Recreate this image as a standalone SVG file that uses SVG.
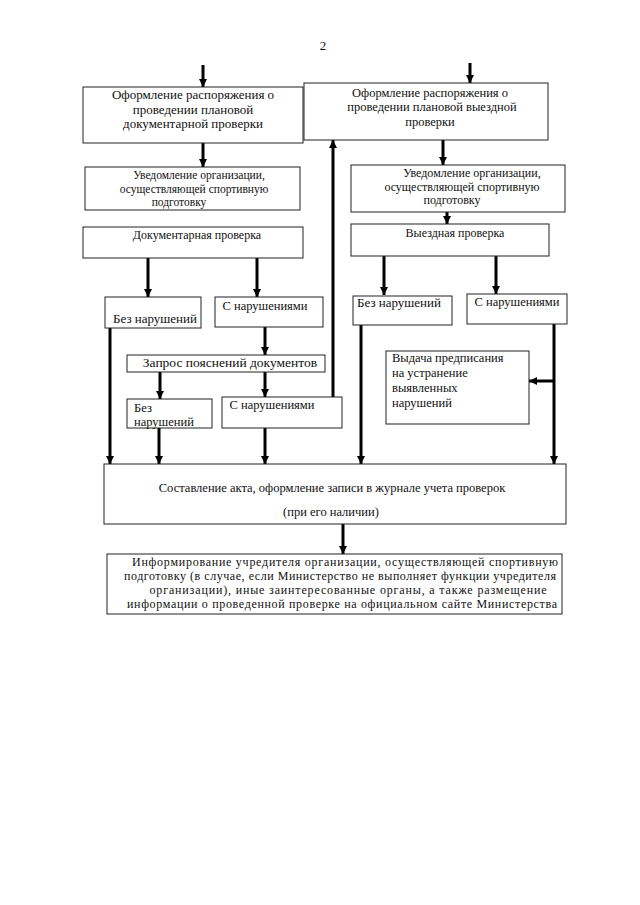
<svg xmlns="http://www.w3.org/2000/svg" width="640" height="905" viewBox="0 0 640 905">
<style>
.b{fill:#fff;stroke:#222;stroke-width:1}
.t{font-family:"Liberation Serif","Times New Roman",serif;font-size:12.5px;fill:#111;text-anchor:middle}
.s{font-size:11.5px}
.m{font-size:12px}
.g{font-size:13px}
.l{text-anchor:start}
.c{stroke:#000;stroke-width:3;fill:none;marker-end:url(#ah)}
</style>
<defs>
<marker id="ah" markerUnits="userSpaceOnUse" markerWidth="9" markerHeight="8" refX="8" refY="4" orient="auto">
<path d="M0,0 L8,4 L0,8 z" fill="#000"/>
</marker>
</defs>
<rect width="640" height="905" fill="#fff"/>
<text class="t" x="323" y="50" style="font-size:13px">2</text>

<g id="connectors">
<line class="c" x1="203" y1="65" x2="203" y2="87"/>
<line class="c" x1="470" y1="63" x2="470" y2="83"/>
<line class="c" x1="203" y1="143" x2="203" y2="167"/>
<line class="c" x1="443" y1="140" x2="443" y2="165"/>
<line class="c" x1="447" y1="212" x2="447" y2="224"/>
<line class="c" x1="148" y1="258" x2="148" y2="297"/>
<line class="c" x1="257" y1="258" x2="257" y2="297"/>
<line class="c" x1="384" y1="256" x2="384" y2="295"/>
<line class="c" x1="496" y1="256" x2="496" y2="294"/>
<line class="c" x1="265" y1="327" x2="265" y2="355"/>
<line class="c" x1="160" y1="372" x2="160" y2="399"/>
<line class="c" x1="265" y1="372" x2="265" y2="397"/>
<line class="c" x1="333" y1="397" x2="333" y2="140"/>
<line class="c" x1="110" y1="328" x2="110" y2="464"/>
<line class="c" x1="159" y1="428" x2="159" y2="464"/>
<line class="c" x1="265" y1="428" x2="265" y2="464"/>
<line class="c" x1="361" y1="325" x2="361" y2="464"/>
<line class="c" x1="554" y1="324" x2="554" y2="464"/>
<line class="c" x1="554" y1="381" x2="529" y2="381"/>
<line class="c" x1="343" y1="524" x2="343" y2="554"/>
</g>

<g id="n1">
<rect class="b" x="83" y="87" width="220" height="56"/>
<text class="t g" x="193" y="99">Оформление распоряжения о</text>
<text class="t g" x="193" y="114">проведении плановой</text>
<text class="t g" x="193" y="128">документарной проверки</text>
</g>
<g id="n2">
<rect class="b" x="304" y="83" width="244" height="57"/>
<text class="t" x="430" y="97">Оформление распоряжения о</text>
<text class="t" x="432" y="111">проведении плановой выездной</text>
<text class="t" x="430" y="126">проверки</text>
</g>
<g id="n3">
<rect class="b" x="85" y="167" width="215" height="43"/>
<text class="t s" x="199" y="179">Уведомление организации,</text>
<text class="t s" x="194" y="193">осуществляющей спортивную</text>
<text class="t s" x="179" y="206">подготовку</text>
</g>
<g id="n4">
<rect class="b" x="351" y="165" width="214" height="47"/>
<text class="t m" x="472" y="177">Уведомление организации,</text>
<text class="t m" x="462" y="191">осуществляющей спортивную</text>
<text class="t m" x="452" y="204">подготовку</text>
</g>
<g id="n5">
<rect class="b" x="83" y="227" width="220" height="31"/>
<text class="t m" x="197" y="239">Документарная проверка</text>
</g>
<g id="n6">
<rect class="b" x="351" y="224" width="198" height="32"/>
<text class="t m" x="455" y="237">Выездная проверка</text>
</g>
<g id="n7">
<rect class="b" x="105" y="297" width="96" height="31"/>
<text class="t g" x="155" y="323">Без нарушений</text>
</g>
<g id="n8">
<rect class="b" x="215" y="297" width="108" height="30"/>
<text class="t" x="265" y="310">С нарушениями</text>
</g>
<g id="n9">
<rect class="b" x="353" y="296" width="99" height="29"/>
<text class="t g" x="399" y="307">Без нарушений</text>
</g>
<g id="n10">
<rect class="b" x="467" y="294" width="100" height="30"/>
<text class="t" x="517" y="306">С нарушениями</text>
</g>
<g id="n11">
<rect class="b" x="127" y="355" width="198" height="17"/>
<text class="t" x="230" y="367" style="font-size:13.5px">Запрос пояснений документов</text>
</g>
<g id="n12">
<rect class="b" x="386" y="351" width="143" height="73"/>
<text class="t l" x="392" y="362">Выдача предписания</text>
<text class="t l" x="392" y="377">на устранение</text>
<text class="t l" x="392" y="392">выявленных</text>
<text class="t l" x="392" y="407">нарушений</text>
</g>
<g id="n13">
<rect class="b" x="127" y="399" width="85" height="29"/>
<text class="t l" x="134" y="412">Без</text>
<text class="t l" x="134" y="426">нарушений</text>
</g>
<g id="n14">
<rect class="b" x="222" y="397" width="120" height="31"/>
<text class="t" x="272" y="409">С нарушениями</text>
</g>
<g id="n15">
<rect class="b" x="104" y="464" width="462" height="60"/>
<text class="t" x="332" y="492">Составление акта, оформление записи в журнале учета проверок</text>
<text class="t" x="331" y="516">(при его наличии)</text>
</g>
<g id="n16">
<rect class="b" x="107" y="554" width="455" height="60"/>
<text class="t m" x="345" y="566" textLength="426">Информирование учредителя организации, осуществляющей спортивную</text>
<text class="t m" x="340" y="580" textLength="432">подготовку (в случае, если Министерство не выполняет функции учредителя</text>
<text class="t m" x="348" y="594" textLength="397">организации), иные заинтересованные органы, а также размещение</text>
<text class="t m" x="342" y="608" textLength="430">информации о проведенной проверке на официальном сайте Министерства</text>
</g>
</svg>
